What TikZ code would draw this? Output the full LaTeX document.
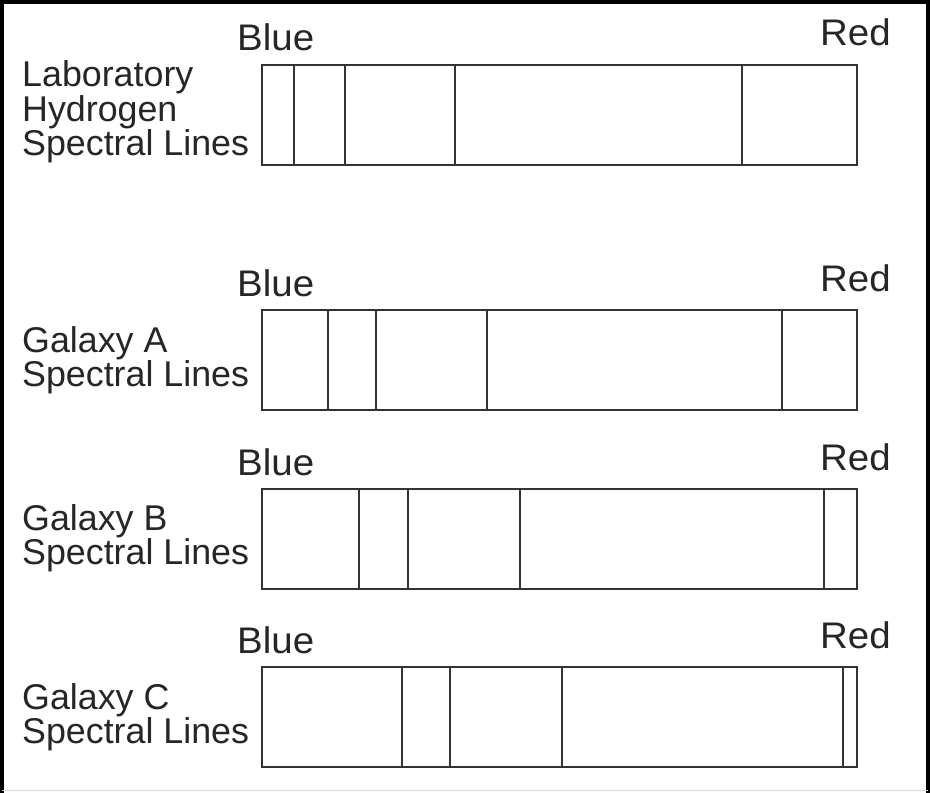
\documentclass[tikz,border=0pt]{standalone}
\usepackage{fontspec}
\setmainfont{Liberation Sans}
\begin{document}
\begin{tikzpicture}[x=1pt,y=-1pt,
  spec/.style={draw=black!80, line width=2pt, minimum width=595pt, minimum height=100pt, inner sep=0pt, anchor=north west},
  sline/.style={draw=black!80, line width=2pt},
  endlabel/.style={font=\fontsize{37}{37}\selectfont, xscale=1.04, inner sep=0pt, text=black!85},
  sidelabel/.style={font=\fontsize{35.8}{33}\selectfont, align=left, inner sep=0pt, anchor=west, text=black!85}]
\useasboundingbox (0,0) rectangle (930,793);
\fill[white] (0,0) rectangle (930,793);
\draw[line width=4pt] (2,793) -- (2,2) -- (928,2) -- (928,793);
\draw[black!15, line width=1pt] (2,790) -- (928,790);

% Laboratory
\node[spec] (lab) at (261,64) {};
\node[endlabel, anchor=base west] (labblue) at (237,50) {Blue};
\node[endlabel, anchor=base east] (labred) at (891,45) {Red};
\node[sidelabel] (labtxt) at (22,112) {Laboratory\\Hydrogen\\Spectral Lines};
\foreach \x in {294,345,455,742} \draw[sline] (\x,64) -- (\x,164);

% Galaxy A
\node[spec] (ga) at (261,309) {};
\node[endlabel, anchor=base west] (gablue) at (237,296) {Blue};
\node[endlabel, anchor=base east] (gared) at (891,291) {Red};
\node[sidelabel] (gatxt) at (22,360) {Galaxy A\\Spectral Lines};
\foreach \x in {328,376,487,782} \draw[sline] (\x,309) -- (\x,409);

% Galaxy B
\node[spec] (gb) at (261,488) {};
\node[endlabel, anchor=base west] (gbblue) at (237,475) {Blue};
\node[endlabel, anchor=base east] (gbred) at (891,470) {Red};
\node[sidelabel] (gbtxt) at (22,538) {Galaxy B\\Spectral Lines};
\foreach \x in {359,408,520,824} \draw[sline] (\x,488) -- (\x,588);

% Galaxy C
\node[spec] (gc) at (261,666) {};
\node[endlabel, anchor=base west] (gcblue) at (237,653) {Blue};
\node[endlabel, anchor=base east] (gcred) at (891,648) {Red};
\node[sidelabel] (gctxt) at (22,717) {Galaxy C\\Spectral Lines};
\foreach \x in {402,450,562,843} \draw[sline] (\x,666) -- (\x,766);
\end{tikzpicture}
\end{document}
